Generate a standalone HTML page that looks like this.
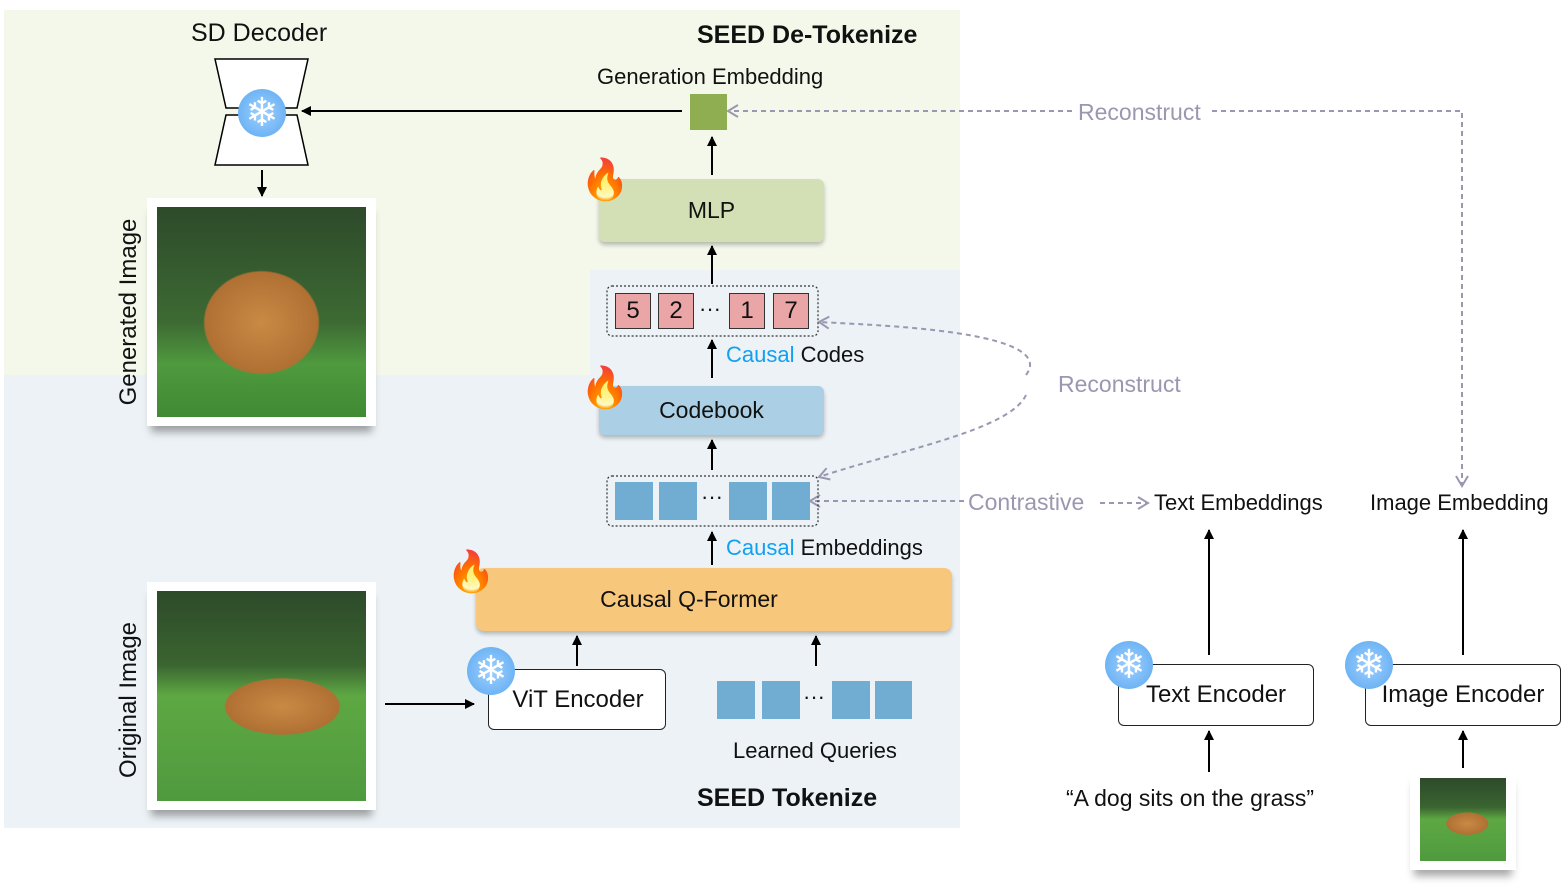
<!DOCTYPE html>
<html><head><meta charset="utf-8"><style>
body{margin:0;width:1568px;height:889px;background:#fff;position:relative;overflow:hidden;font-family:"Liberation Sans","DejaVu Sans",sans-serif;color:#111}
.a{position:absolute}
.t{position:absolute;white-space:nowrap;font-size:22px}
.box{position:absolute;display:flex;align-items:center;justify-content:center;font-size:23px;border-radius:6px}
.sh{box-shadow:0 3px 4px rgba(0,0,0,.25)}
.pk{position:absolute;width:36px;height:36px;background:#eaa6a6;border:1.5px solid #333;box-sizing:border-box;display:flex;align-items:center;justify-content:center;font-size:24px}
.bl{position:absolute;width:38px;height:38px;background:#71acd3}
.photo{position:absolute;background:#fff;box-shadow:0 10px 8px -4px rgba(0,0,0,.35)}
.img{position:absolute;left:10px;top:9px;right:10px;bottom:9px;overflow:hidden;background:radial-gradient(ellipse 45% 40% at 50% 55%,#c98a45 0,#b07033 60%,transparent 62%),linear-gradient(#2d4a2a 0,#3d6a33 55%,#4f9a3e 75%,#3f8a33 100%)}
.snow{position:absolute;width:48px;height:48px;border-radius:50%;background:radial-gradient(circle,#9fd0ff,#5aa8f0);color:#fff;font-size:40px;line-height:48px;text-align:center}
.fire{position:absolute;font-size:40px;color:#f06030}
</style></head><body>
<div class="a" style="left:4px;top:10px;width:956px;height:365px;background:#f4f8ea"></div>
<div class="a" style="left:590px;top:270px;width:370px;height:105px;background:#ecf2f6"></div>
<div class="a" style="left:4px;top:375px;width:956px;height:453px;background:#ecf2f6"></div>

<div class="t" style="left:191px;top:19px;font-size:25px">SD Decoder</div>
<div class="t" style="left:697px;top:21px;font-size:25px;font-weight:bold">SEED De-Tokenize</div>
<div class="t" style="left:597px;top:64px;font-size:22px">Generation Embedding</div>
<div class="t" style="left:697px;top:784px;font-size:25px;font-weight:bold">SEED Tokenize</div>

<svg class="a" style="left:0;top:0" width="1568" height="889">
<defs>
<marker id="ar" markerWidth="10" markerHeight="10" refX="9" refY="5" orient="auto" markerUnits="userSpaceOnUse"><path d="M0,0 L10,5 L0,10 z" fill="#000"/></marker>
<marker id="ag" markerWidth="14" markerHeight="14" refX="12" refY="7" orient="auto" markerUnits="userSpaceOnUse"><path d="M2,1 L12,7 L2,13" fill="none" stroke="#9a98b0" stroke-width="2"/></marker>
</defs>
<polygon points="215,59 308,59 297,108 226,108" fill="#fff" stroke="#000" stroke-width="1.5"/>
<polygon points="226,115 297,115 308,165 215,165" fill="#fff" stroke="#000" stroke-width="1.5"/>
<g stroke="#000" stroke-width="2" fill="none">
<line x1="682" y1="111" x2="302" y2="111" marker-end="url(#ar)"/>
<line x1="262" y1="170" x2="262" y2="196" marker-end="url(#ar)"/>
<line x1="712" y1="175" x2="712" y2="137" marker-end="url(#ar)"/>
<line x1="712" y1="284" x2="712" y2="246" marker-end="url(#ar)"/>
<line x1="712" y1="378" x2="712" y2="340" marker-end="url(#ar)"/>
<line x1="712" y1="470" x2="712" y2="440" marker-end="url(#ar)"/>
<line x1="712" y1="565" x2="712" y2="532" marker-end="url(#ar)"/>
<line x1="577" y1="666" x2="577" y2="636" marker-end="url(#ar)"/>
<line x1="816" y1="666" x2="816" y2="636" marker-end="url(#ar)"/>
<line x1="385" y1="704" x2="474" y2="704" marker-end="url(#ar)"/>
<line x1="1209" y1="655" x2="1209" y2="530" marker-end="url(#ar)"/>
<line x1="1209" y1="772" x2="1209" y2="731" marker-end="url(#ar)"/>
<line x1="1463" y1="655" x2="1463" y2="530" marker-end="url(#ar)"/>
<line x1="1463" y1="768" x2="1463" y2="731" marker-end="url(#ar)"/>
</g>
<g stroke="#9a98b0" stroke-width="2" fill="none" stroke-dasharray="5,4">
<line x1="1072" y1="111" x2="728" y2="111" marker-end="url(#ag)"/>
<polyline points="1212,111 1462,111 1462,486" marker-end="url(#ag)"/>
<path d="M1026,375 C1060,330 870,325 819,322" marker-end="url(#ag)"/>
<path d="M1026,395 C1010,430 900,450 819,477" marker-end="url(#ag)"/>
<line x1="964" y1="501" x2="810" y2="501" marker-end="url(#ag)"/>
<line x1="1100" y1="503" x2="1148" y2="503" marker-end="url(#ag)"/>
</g>
<rect x="607" y="286" width="211" height="50" rx="5" fill="none" stroke="#333" stroke-width="1.2" stroke-dasharray="2,2"/>
<rect x="607" y="476" width="211" height="50" rx="5" fill="none" stroke="#333" stroke-width="1.2" stroke-dasharray="2,2"/>
</svg>

<div class="snow" style="left:238px;top:89px">❄</div>
<div class="a" style="left:690px;top:94px;width:37px;height:36px;background:#8fae52"></div>

<div class="box sh" style="left:599px;top:179px;width:225px;height:63px;background:#d3e0b6">MLP</div>
<div class="fire" style="left:580px;top:156px">🔥</div>

<div class="pk" style="left:615px;top:293px">5</div>
<div class="pk" style="left:658px;top:293px">2</div>
<div class="t" style="left:699px;top:296px">···</div>
<div class="pk" style="left:729px;top:293px">1</div>
<div class="pk" style="left:773px;top:293px">7</div>
<div class="t" style="left:726px;top:342px"><span style="color:#12a0f0">Causal</span> Codes</div>

<div class="box sh" style="left:599px;top:386px;width:225px;height:49px;background:#abcfe4">Codebook</div>
<div class="fire" style="left:580px;top:364px">🔥</div>

<div class="bl" style="left:615px;top:482px"></div>
<div class="bl" style="left:659px;top:482px"></div>
<div class="t" style="left:701px;top:484px">···</div>
<div class="bl" style="left:729px;top:482px"></div>
<div class="bl" style="left:772px;top:482px"></div>
<div class="t" style="left:726px;top:535px"><span style="color:#12a0f0">Causal</span> Embeddings</div>

<div class="box sh" style="left:476px;top:568px;width:476px;height:63px;background:#f7c77c;border-radius:8px"><span style="margin-right:50px">Causal Q-Former</span></div>
<div class="fire" style="left:446px;top:548px">🔥</div>

<div class="box" style="left:488px;top:669px;width:178px;height:61px;background:#fff;border:1.5px solid #222;box-sizing:border-box;font-size:24px;padding-left:2px">ViT Encoder</div>
<div class="snow" style="left:467px;top:647px">❄</div>

<div class="bl" style="left:717px;top:681px"></div>
<div class="bl" style="left:762px;top:681px"></div>
<div class="t" style="left:803px;top:684px">···</div>
<div class="bl" style="left:832px;top:681px"></div>
<div class="bl" style="left:875px;top:681px;width:37px"></div>
<div class="t" style="left:733px;top:738px;font-size:22px">Learned Queries</div>

<div class="photo" style="left:147px;top:198px;width:229px;height:228px"><div class="img"></div></div>
<div class="t" style="left:129px;top:312px;transform:translate(-50%,-50%) rotate(-90deg);font-size:24px">Generated Image</div>
<div class="photo" style="left:147px;top:582px;width:229px;height:228px"><div class="img" style="background:radial-gradient(ellipse 45% 22% at 60% 55%,#c98a45 0,#b07033 60%,transparent 62%),linear-gradient(#2d4a2a 0,#3a6430 35%,#5ea843 50%,#4f9a3e 100%)"></div></div>
<div class="t" style="left:129px;top:700px;transform:translate(-50%,-50%) rotate(-90deg);font-size:24px">Original Image</div>

<div class="t" style="left:1078px;top:99px;color:#9a98b0;font-size:23px">Reconstruct</div>
<div class="t" style="left:1058px;top:371px;color:#9a98b0;font-size:23px">Reconstruct</div>
<div class="t" style="left:968px;top:489px;color:#9a98b0;font-size:23px">Contrastive</div>
<div class="t" style="left:1154px;top:490px">Text Embeddings</div>
<div class="t" style="left:1370px;top:490px">Image Embedding</div>

<div class="box" style="left:1118px;top:664px;width:196px;height:62px;background:#fff;border:1.5px solid #222;box-sizing:border-box;font-size:24px">Text Encoder</div>
<div class="snow" style="left:1105px;top:641px">❄</div>
<div class="box" style="left:1365px;top:664px;width:196px;height:62px;background:#fff;border:1.5px solid #222;box-sizing:border-box;font-size:24px">Image Encoder</div>
<div class="snow" style="left:1345px;top:641px">❄</div>
<div class="t" style="left:1066px;top:785px;font-size:23px">“A dog sits on the grass”</div>
<div class="photo" style="left:1410px;top:770px;width:106px;height:100px"><div class="img" style="left:10px;top:8px;right:10px;bottom:9px;background:radial-gradient(ellipse 40% 22% at 55% 55%,#c98a45 0,#b07033 60%,transparent 62%),linear-gradient(#2d4a2a 0,#3a6430 35%,#5ea843 50%,#4f9a3e 100%)"></div></div>
</body></html>
